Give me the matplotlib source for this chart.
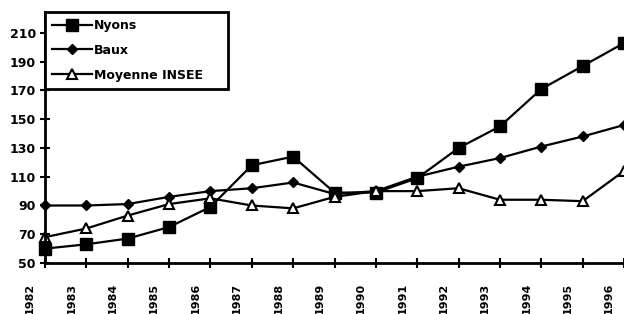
import numpy as np
import matplotlib
matplotlib.use("Agg")
from matplotlib import pyplot as plt

annees = ["1982", "1983", "1984", "1985", "1986", "1987", "1988", "1989",
          "1990", "1991", "1992", "1993", "1994", "1995", "1996"]
nyons = [60, 63, 67, 75, 89, 118, 124, 99, 99, 109, 130, 145, 171, 187, 203]
baux = [90, 90, 91, 96, 100, 102, 106, 98, 100, 110, 117, 123, 131, 138, 146]
moyenne = [68, 74, 83, 91, 95, 90, 88, 96, 100, 100, 102, 94, 94, 93, 114]
y_ticks = [50, 70, 90, 110, 130, 150, 170, 190, 210]

plt.rcParams["font.family"] = ["DejaVu Sans"]
plt.rcParams["font.weight"] = "bold"

fig = plt.figure(figsize=(6.24, 3.14), dpi=100)
ax = fig.add_axes([45 / 624, 1 - 263 / 314, 1 - 45 / 624, 251 / 314])

x = np.arange(len(annees))
ax.plot(x, nyons, color="black", lw=1.6, marker="s", ms=8, mfc="black",
        mec="black", label="Nyons", clip_on=False)
ax.plot(x, baux, color="black", lw=1.6, marker="D", ms=5, mfc="black",
        mec="black", label="Baux", clip_on=False)
ax.plot(x, moyenne, color="black", lw=1.6, marker="^", ms=6.5, mfc="white",
        mec="black", mew=1.5, label="Moyenne INSEE", clip_on=False)

ax.set_yticks(y_ticks)
ax.set_yticklabels([str(v) for v in y_ticks], fontsize=9, fontweight="bold")

# tick marks at the data points, year labels set a little to the left
ax.set_xticks(x)
ax.set_xticklabels([])
for xi, an in zip(x, annees):
    ax.annotate(an, xy=(xi - 0.36, 0), xycoords=("data", "axes fraction"),
                xytext=(0, -14.4), textcoords="offset points", rotation=90,
                ha="center", va="top", fontsize=8, fontweight="bold",
                annotation_clip=False)

ax.set_xlim(0, 14)
ax.set_ylim(50, 224.6)

ax.tick_params(axis="both", which="major", direction="inout", length=7,
               width=1.5, colors="black")
ax.tick_params(axis="y", pad=3)
ax.spines["top"].set_visible(False)
ax.spines["right"].set_visible(False)
ax.spines["left"].set_linewidth(2)
ax.spines["bottom"].set_linewidth(2)

leg = ax.legend(loc="upper left", bbox_to_anchor=(0, 0, 183 / 579, 1),
                mode="expand", frameon=True, fancybox=False, framealpha=1,
                edgecolor="black", fontsize=9, borderaxespad=0,
                handlelength=3.2, handletextpad=0.15, labelspacing=0.95,
                borderpad=0.55, markerscale=1.1)
leg.get_frame().set_linewidth(2)
for t in leg.get_texts():
    t.set_fontweight("bold")

fig.savefig("out.png", dpi=100)
